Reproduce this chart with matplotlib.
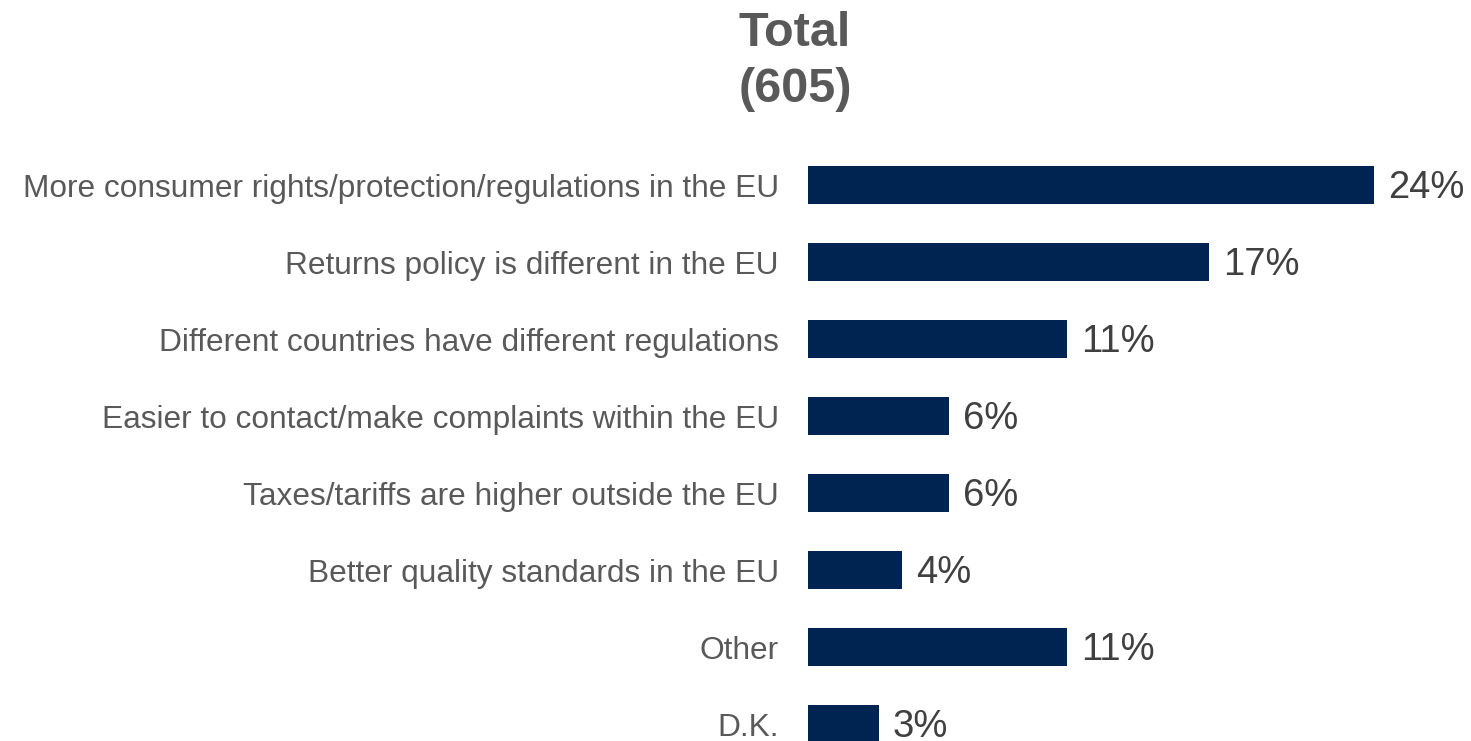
import matplotlib.pyplot as plt

plt.rcParams['font.family'] = ['Liberation Sans', 'DejaVu Sans']

# survey answers, top to bottom
categories = [
    "More consumer rights/protection/regulations in the EU",
    "Returns policy is different in the EU",
    "Different countries have different regulations",
    "Easier to contact/make complaints within the EU",
    "Taxes/tariffs are higher outside the EU",
    "Better quality standards in the EU",
    "Other",
    "D.K.",
]
values = [24, 17, 11, 6, 6, 4, 11, 3]
title_lines = ["Total", "(605)"]

BAR_COLOR = "#002452"
LABEL_COLOR = "#595959"
VALUE_COLOR = "#404040"

fig = plt.figure(figsize=(14.71, 7.41), dpi=100)
ax = fig.add_axes([808 / 1471, 0.0, 613 / 1471, 594.5 / 741])

ypos = list(range(len(categories)))
bars = ax.barh(ypos, values, height=0.49, color=BAR_COLOR)

ax.set_xlim(0, 26)
ax.set_ylim(7.22, -0.5)

ax.set_yticks(ypos)
ax.set_yticklabels(categories, fontsize=22.8, color=LABEL_COLOR)
ax.tick_params(axis='y', length=0, pad=21)
ax.set_xticks([])
for side in ax.spines.values():
    side.set_visible(False)

for bar, v in zip(bars, values):
    ax.annotate("{}%".format(v), (bar.get_width(), bar.get_y() + bar.get_height() / 2),
                xytext=(10, -2), textcoords='offset points', va='center', ha='left',
                fontsize=27.5, color=VALUE_COLOR, annotation_clip=False)

for line, ypix in zip(title_lines, [33, 89]):
    fig.text(795 / 1471, 1 - ypix / 741, line, ha='center', va='center',
             fontsize=35, fontweight='bold', color=LABEL_COLOR)

fig.savefig("out.png", dpi=100)
